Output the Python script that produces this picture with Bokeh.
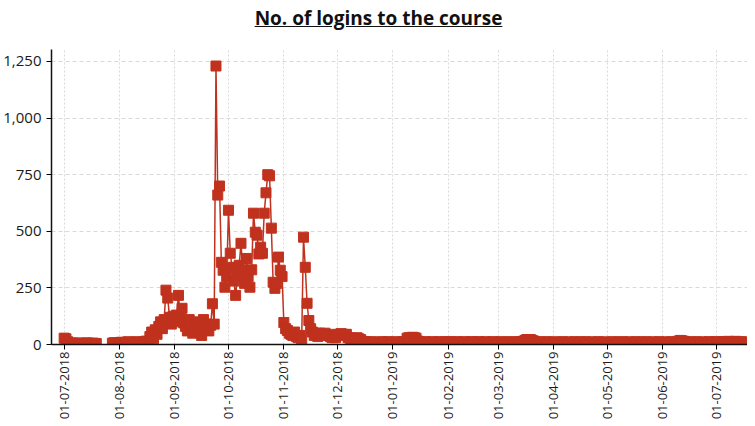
import numpy as np
import pandas as pd
from bokeh.plotting import figure
from bokeh.models import (ColumnDataSource, Range1d, NumeralTickFormatter,
                          DatetimeTickFormatter, MonthsTicker, Div)
from bokeh.layouts import column
from bokeh.embed import file_html
from bokeh.resources import INLINE

nan = float("nan")

# daily logins
jul_2018 = [28, 25, 12, 6, 5, 7, 5, 4, 6, 5, 4, 6, 5, 7, 5, 4, 6, 5, 4,
            nan, nan, nan, nan, nan, nan, nan, nan, 6, 8, 5, 7]
aug_2018 = [8, 10, 6, 8, 10, 12, 8, 6, 10, 8, 12, 10, 8, 10, 12, 15, 12,
            35, 55, 25, 65, 45, 80, 100, 70, 110, 240, 205, 120, 90, 125]
sep_2018 = [100, 130, 217, 120, 160, 95, 80, 60, 110, 75,
            50, 90, 100, 60, 80, 40, 110, 70, 90, 60,
            85, 180, 90, 1230, 660, 700, 363, 328, 253, 300]
oct_2018 = [593, 403, 341, 280, 217, 300, 350, 447, 328, 270,
            380, 300, 253, 330, 580, 496, 483, 400, 430, 403,
            580, 670, 750, 745, 514, 275, 248, 270, 386, 328, 300]
nov_2018 = [97, 70, 62, 50, 45, 40, 55, 35, 30, 40, 25, 474, 341, 182, 106,
            70, 55, 40, 50, 35, 50, 40, 45, 50, 45, 40, 35, 30, 35, 30]
dec_2018 = [45, 40, 48, 45, 42, 45, 30, 28, 25, 28, 25, 30, 25, 22, 12, 10,
            12, 10, 8, 12, 10, 8, 10, 8, 10, 12, 8, 10, 12, 10, 8]
jan_2019 = [10, 8, 12, 10, 8, 10, 12, 10, 28, 30, 28, 32, 30, 28, 15, 12,
            10, 8, 12, 10, 8, 10, 12, 10, 8, 10, 12, 10, 8, 10, 12]
feb_2019 = [10, 12, 9, 8, 11, 12, 10, 8, 9, 12, 10, 8, 11, 12, 10, 9,
            10, 12, 11, 8, 10, 12, 9, 8, 10, 12, 11, 8]
mar_2019 = [10, 8, 12, 10, 9, 11, 10, 8, 12, 10, 9, 11, 10, 12, 14, 18,
            22, 20, 22, 18, 15, 12, 10, 9, 11, 10, 8, 12, 10, 9, 11]
apr_2019 = [10, 9, 11, 10, 8, 12, 10, 9, 11, 10, 8, 10, 12, 10, 9,
            11, 10, 8, 12, 10, 9, 11, 10, 8, 10, 12, 10, 9, 11, 10]
may_2019 = [9, 10, 8, 12, 10, 9, 11, 10, 8, 12, 10, 9, 11, 10, 8, 10,
            12, 10, 9, 11, 10, 8, 12, 10, 9, 11, 10, 8, 10, 12, 10]
jun_2019 = [10, 9, 11, 10, 8, 12, 10, 9, 11, 15, 18, 16, 14, 12, 10,
            9, 11, 10, 8, 12, 10, 9, 11, 10, 8, 10, 12, 10, 9, 11]
jul_2019 = [12, 10, 9, 11, 12, 10, 12, 14, 12, 10, 12, 14, 12, 10, 12, 11, 10, 6]

y_ticks = [0, 250, 500, 750, 1000, 1250]
title_text = "No. of logins to the course"

logins = (jul_2018 + aug_2018 + sep_2018 + oct_2018 + nov_2018 + dec_2018 +
          jan_2019 + feb_2019 + mar_2019 + apr_2019 + may_2019 + jun_2019 + jul_2019)
dates = pd.date_range("2018-07-01", periods=len(logins), freq="D")
src = ColumnDataSource(dict(date=dates, logins=logins))

RED = "#c0321e"
FONT = "Open Sans"

p = figure(width=747, height=378, x_axis_type="datetime", output_backend="svg",
           toolbar_location=None,
           x_range=Range1d(pd.Timestamp("2018-06-23 22:00"), pd.Timestamp("2019-07-18 14:00")),
           y_range=Range1d(0, 1303),
           min_border_top=5, min_border_right=0, min_border_left=46, min_border_bottom=0)
p.outline_line_color = None
p.background_fill_color = "white"

p.line("date", "logins", source=src, line_color=RED, line_width=1.5)
p.scatter("date", "logins", source=src, marker="square", size=10,
          fill_color=RED, line_color=RED)

p.xgrid.grid_line_color = "#d9d9d9"
p.xgrid.grid_line_dash = "2 2"
p.ygrid.grid_line_color = "#d9d9d9"
p.ygrid.grid_line_dash = "4 3"

p.yaxis.ticker = y_ticks
p.yaxis.formatter = NumeralTickFormatter(format="0,0")
p.yaxis.axis_line_color = "#111111"
p.yaxis.axis_line_width = 1.5
p.yaxis.major_tick_out = 5
p.yaxis.major_tick_in = 0
p.yaxis.minor_tick_line_color = None
p.yaxis.major_label_text_font = FONT
p.yaxis.major_label_text_font_size = "15px"
p.yaxis.major_label_text_color = "#1a1a1a"

p.xaxis.ticker = MonthsTicker(months=list(range(1, 13)))
fmt = "%d-%m-%Y"
p.xaxis.formatter = DatetimeTickFormatter(days=fmt, months=fmt, years=fmt)
p.xaxis.axis_line_color = "#111111"
p.xaxis.axis_line_width = 1.5
p.xaxis.major_tick_out = 5
p.xaxis.major_tick_in = 0
p.xaxis.minor_tick_line_color = None
p.xaxis.major_label_orientation = np.pi / 2
p.xaxis.major_label_standoff = 2
p.xaxis.major_label_text_font = FONT
p.xaxis.major_label_text_font_size = "13px"
p.xaxis.major_label_text_color = "#1a1a1a"

title = Div(text=f'<div style="width:747px;text-align:center;font-family:\'Open Sans\';font-weight:bold;'
                 f'font-size:19px;text-decoration:underline;color:#111;margin-top:0px;">{title_text}</div>',
            width=747, height=34)

layout = column(title, p, spacing=0)
open("out.html", "w").write(file_html(layout, INLINE))
